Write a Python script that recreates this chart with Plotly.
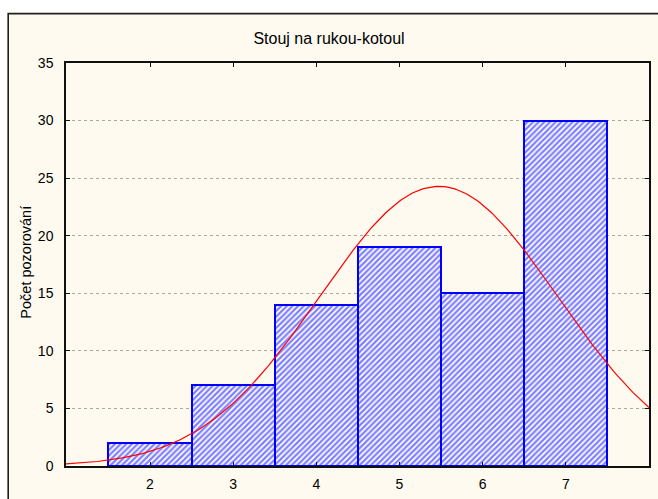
import numpy as np
import plotly.graph_objects as go

# ---- data ----
categories = [2, 3, 4, 5, 6, 7]
counts = [2, 7, 14, 19, 15, 30]
y_ticks = [0, 5, 10, 15, 20, 25, 30, 35]
title_text = "Stouj na rukou-kotoul"
y_title = "Počet pozorování"

# expected normal curve fitted to the observed frequencies (bin width 1)
cats = np.array(categories, dtype=float)
freq = np.array(counts, dtype=float)
n = freq.sum()
mean = (cats * freq).sum() / n
sd = np.sqrt(((cats - mean) ** 2 * freq).sum() / (n - 1))
x_lo, x_hi = 0.99, 8.0
xc = np.linspace(x_lo, x_hi, 300)
yc = n / (sd * np.sqrt(2 * np.pi)) * np.exp(-0.5 * ((xc - mean) / sd) ** 2)

W, H = 658, 499
L, R, T, B = 66, 7, 63, 32
pw, ph = W - L - R, H - T - B

def px_x(p):
    return (p - L) / pw

def px_y(p):
    return 1 - (p - T) / ph

fig = go.Figure()
fig.add_trace(go.Bar(
    x=categories, y=counts, width=1.0,
    marker=dict(
        color="white",
        line=dict(color="#0000ff", width=2),
        pattern=dict(shape="/", fgcolor="#0000ff", bgcolor="white", size=4, solidity=0.55),
    ),
    showlegend=False,
))
fig.add_trace(go.Scatter(
    x=xc, y=yc, mode="lines",
    line=dict(color="#ff0000", width=1.2),
    showlegend=False, cliponaxis=True,
))

# outer cream frame
fig.add_shape(type="rect", xref="paper", yref="paper",
              x0=px_x(8), x1=px_x(662), y0=px_y(503), y1=px_y(13.5),
              fillcolor="#fefaf0", line=dict(color="#202020", width=1.6),
              layer="below")

tick_font = dict(family="Liberation Sans, Arial, sans-serif", size=14, color="black")
label_font = dict(family="Liberation Sans, Arial, sans-serif", size=14.5, color="black")

# y axis title placed as rotated annotation
fig.add_annotation(text=y_title, xref="paper", yref="paper",
                   x=px_x(25), y=px_y(263), xanchor="center", yanchor="middle",
                   textangle=-90, showarrow=False, font=label_font)

fig.update_layout(
    width=W, height=H,
    margin=dict(l=L, r=R, t=T, b=B, pad=0),
    paper_bgcolor="white",
    plot_bgcolor="white",
    font=tick_font,
    bargap=0,
    title=dict(text=title_text, x=0.5, xref="container", xanchor="center",
               y=1 - 38 / H, yref="container", yanchor="middle",
               font=dict(family="Liberation Sans, Arial, sans-serif", size=16, color="black")),
    xaxis=dict(
        range=[x_lo, x_hi], tickvals=categories, ticktext=[str(c) for c in categories],
        showgrid=False, zeroline=False,
        showline=True, linecolor="#101010", linewidth=1.5, mirror="ticks",
        ticks="inside", ticklen=4, tickcolor="#101010",
        tickfont=tick_font, ticklabelstandoff=4,
    ),
    yaxis=dict(
        range=[0, 35], tickvals=y_ticks,
        showgrid=True, gridcolor="#a8a8a8", griddash="dot", gridwidth=1,
        zeroline=False,
        showline=True, linecolor="#101010", linewidth=1.5, mirror="ticks",
        ticks="inside", ticklen=4, tickcolor="#101010",
        tickfont=tick_font, ticklabelstandoff=8,
    ),
)

fig.write_html("out.html")
